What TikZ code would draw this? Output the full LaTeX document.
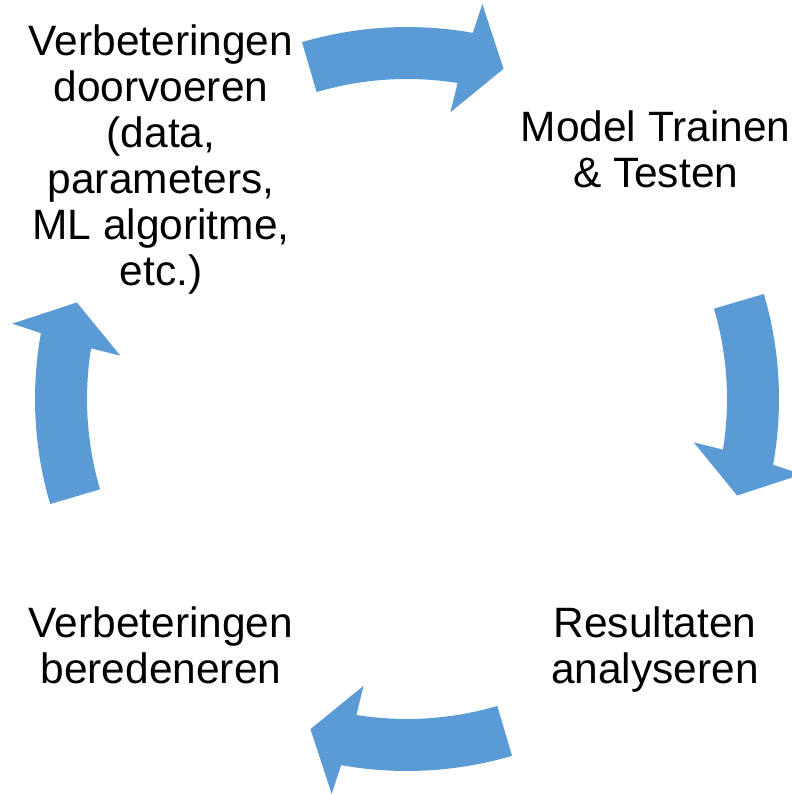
\documentclass[tikz,border=0pt]{standalone}
\usepackage{fontspec}
\setmainfont{Liberation Sans}
\usepackage{xcolor}
\usepackage{tikz}
\definecolor{cycleblue}{HTML}{5B9BD5}

\begin{document}
\begin{tikzpicture}[
  every node/.style={align=center,inner sep=0pt,font=\fontsize{30.2}{32.7}\selectfont},
  blockarrow/.style={fill=cycleblue,draw=none}]
  \useasboundingbox (0,0) rectangle (19.8,19.85);
  \coordinate (c) at (10.175,9.875);
  \foreach \a in {90,0,-90,180} {
    \fill[blockarrow,shift={(c)}] (\a+16.4:9.3)
      arc[start angle=\a+16.4,end angle=\a-10.2,radius=9.3]
      -- (\a-10.8:10.05) -- (\a-16.3:8.6) -- (\a-8.6:7.25) -- (\a-9.1:8)
      arc[start angle=\a-9.1,end angle=\a+16.4,radius=8] -- cycle;
  }
  \node (improve) at (4.025,15.87) {Verbeteringen\\doorvoeren\\(data,\\parameters,\\ML algoritme,\\etc.)};
  \node (train) at (16.39,16.12) {Model Trainen\\\& Testen};
  \node (analyse) at (16.375,3.62) {Resultaten\\analyseren};
  \node (reason) at (4.025,3.72) {Verbeteringen\\beredeneren};
\end{tikzpicture}
\end{document}
